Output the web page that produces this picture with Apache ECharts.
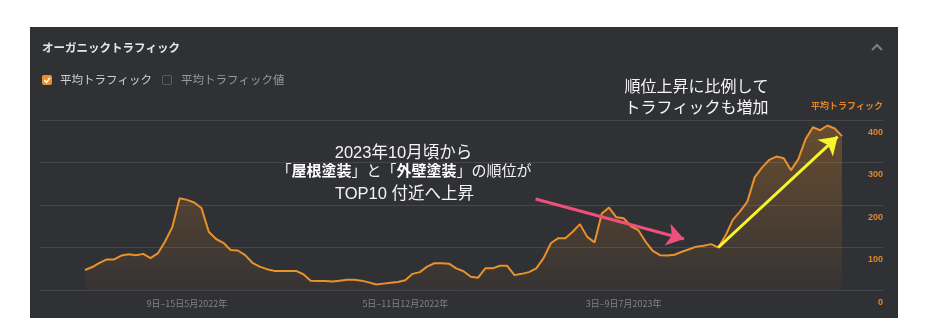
<!DOCTYPE html>
<html><head><meta charset="utf-8">
<script src="https://cdn.jsdelivr.net/npm/echarts@6/dist/echarts.min.js"></script>
<style>
html,body{margin:0;padding:0;background:#fff}
#panel{position:absolute;left:30px;top:27px;width:868px;height:291px;background:#303134}
#c{position:absolute;left:0;top:0;width:931px;height:333px}
</style>
</head><body><div id="panel"></div><div id="c"></div>
<script>
// weekly average organic traffic, from week of 31 Jan 2022 to week of 29 Jan 2024
const traffic = [
  47,54,64,72,72,81,84,82,85,75,86,114,148,216,212,206,193,137,120,111,94,93,82,64,55,49,45,
  45,45,45,37,22,21,21,20,22,24,24,22,18,13,15,17,19,23,38,42,55,63,63,62,51,44,31,
  29,51,51,57,57,35,38,42,51,75,110,122,122,137,155,125,112,180,194,171,169,150,141,114,92,82,81,
  83,90,96,102,104,108,100,128,165,185,208,265,288,306,314,310,282,308,355,383,376,387,380,362
];
const xLabelIndex = [14, 44, 74];
const xLabels = ['9日–15日5月2022年', '5日–11日12月2022年', '3日–9日7月2023年'];
const yMin = 0, yMax = 400, yStep = 100;
const yellowArrow = [[87, 100], [103.4, 361]];
const pinkArrow = [[61.9, 214], [82.3, 120]];
const titleText = 'オーガニックトラフィック';
const legendOn = '平均トラフィック';
const legendOff = '平均トラフィック値';
const axisName = '平均トラフィック';
const noteRight = ['順位上昇に比例して', 'トラフィックも増加'];
const noteMid1 = '2023年10月頃から';
const noteMid2 = '{r|「}{b|屋根塗装}{r|」と「}{b|外壁塗装}{r|」の順位が}';
const noteMid3 = 'TOP10 付近へ上昇';

const jp = '"Noto Sans CJK JP", sans-serif';
const mixed = '"Liberation Sans", Arial, "Noto Sans CJK JP", sans-serif';
const orange = '#e8912d';

const chart = echarts.init(document.getElementById('c'), null, {renderer: 'canvas'});
const seriesData = traffic.map((v, i) => [i, v]);

function arrowSeries(pts, color) {
  return {
    type: 'line', xAxisIndex: 1, yAxisIndex: 1, data: [], silent: true,
    markLine: {
      silent: true, animation: false,
      symbol: ['none', 'arrow'], symbolSize: 17,
      label: {show: false},
      itemStyle: {color: color},
      lineStyle: {color: color, width: 3, type: 'solid', opacity: 1},
      emphasis: {disabled: true},
      data: [[{coord: pts[0]}, {coord: pts[1]}]]
    }
  };
}

chart.setOption({
  backgroundColor: 'transparent',
  animation: false,
  grid: [
    {left: 40, right: 48, top: 120, bottom: 43, outerBoundsMode: 'none', containLabel: false},
    {left: 85, right: 89, top: 120, bottom: 43, outerBoundsMode: 'none', containLabel: false}
  ],
  xAxis: [
    {type: 'value', gridIndex: 0, min: 0, max: 1, show: false},
    {type: 'value', gridIndex: 1, min: 0, max: traffic.length - 1,
     axisLine: {show: false}, axisTick: {show: false}, splitLine: {show: false},
     axisLabel: {
       customValues: xLabelIndex, color: '#808285', fontSize: 9, margin: 9,
       fontFamily: jp,
       formatter: v => xLabels[xLabelIndex.indexOf(Math.round(v))] || ''
     }}
  ],
  yAxis: [
    {type: 'value', gridIndex: 0, position: 'right', min: yMin, max: yMax, interval: yStep,
     axisLine: {show: false}, axisTick: {show: false},
     splitLine: {lineStyle: {color: '#45474b', width: 1}},
     axisLabel: {inside: true, margin: 0, align: 'right', verticalAlign: 'top',
       padding: [8, 0, 0, 0], color: '#e0862c', fontSize: 9, fontWeight: 'bold', fontFamily: mixed}},
    {type: 'value', gridIndex: 1, min: yMin, max: yMax, interval: yStep, show: false}
  ],
  series: [
    {
      type: 'line', xAxisIndex: 1, yAxisIndex: 1, data: seriesData,
      showSymbol: false, symbol: 'none', smooth: false,
      lineStyle: {color: orange, width: 2},
      areaStyle: {
        color: {type: 'linear', x: 0, y: 120, x2: 0, y2: 290, global: true,
          colorStops: [{offset: 0, color: 'rgba(232,140,40,0.45)'},
                       {offset: 1, color: 'rgba(232,140,40,0.05)'}]}
      },
      z: 2
    },
    arrowSeries(pinkArrow, '#ef4f7b'),
    arrowSeries(yellowArrow, '#f7f52c')
  ],
  graphic: [
    {type: 'text', x: 42, y: 47.5, z: 100, silent: true,
     style: {text: titleText, fill: '#e6e6e6', fontSize: 11.5, fontWeight: 'bold', fontFamily: jp,
       align: 'left', verticalAlign: 'middle'}},
    {type: 'polyline', z: 100, silent: true,
     shape: {points: [[872, 50], [877, 45], [882, 50]]},
     style: {stroke: '#7c7e82', lineWidth: 2, fill: null}},
    {type: 'rect', z: 100, silent: true,
     shape: {x: 42, y: 75, width: 10, height: 10, r: 2}, style: {fill: orange}},
    {type: 'polyline', z: 101, silent: true,
     shape: {points: [[44.3, 80.2], [46.6, 82.4], [50, 77.6]]},
     style: {stroke: '#ffffff', lineWidth: 1.6, fill: null}},
    {type: 'text', x: 60, y: 80, z: 100, silent: true,
     style: {text: legendOn, fill: '#d2d2d2', fontSize: 11.5, fontFamily: jp, align: 'left', verticalAlign: 'middle'}},
    {type: 'rect', z: 100, silent: true,
     shape: {x: 162.5, y: 75.5, width: 9, height: 9, r: 1.5},
     style: {fill: null, stroke: '#5b5c60', lineWidth: 1}},
    {type: 'text', x: 181, y: 80, z: 100, silent: true,
     style: {text: legendOff, fill: '#9a9a9c', fontSize: 11.5, fontFamily: jp, align: 'left', verticalAlign: 'middle'}},
    {type: 'text', x: 883, y: 106, z: 100, silent: true,
     style: {text: axisName, fill: '#e0862c', fontSize: 9, fontWeight: 'bold', fontFamily: jp, align: 'right', verticalAlign: 'middle'}},
    {type: 'text', x: 696.5, y: 86, z: 100, silent: true,
     style: {text: noteRight[0], fill: '#f4f4f4', fontSize: 16, fontFamily: jp, align: 'center', verticalAlign: 'middle'}},
    {type: 'text', x: 696.5, y: 107, z: 100, silent: true,
     style: {text: noteRight[1], fill: '#f4f4f4', fontSize: 16, fontFamily: jp, align: 'center', verticalAlign: 'middle'}},
    {type: 'text', x: 403.5, y: 153, z: 100, silent: true,
     style: {text: noteMid1, fill: '#f4f4f4', fontSize: 16.5, fontFamily: mixed, align: 'center', verticalAlign: 'middle'}},
    {type: 'text', x: 404, y: 171.5, z: 100, silent: true,
     style: {text: noteMid2, fill: '#f4f4f4', fontSize: 15, fontFamily: mixed, align: 'center', verticalAlign: 'middle',
       rich: {
         r: {fill: '#f4f4f4', fontSize: 15, fontFamily: mixed},
         b: {fill: '#ffffff', fontSize: 15, fontWeight: 'bold', fontFamily: mixed}
       }}},
    {type: 'text', x: 404.5, y: 194.5, z: 100, silent: true,
     style: {text: noteMid3, fill: '#f4f4f4', fontSize: 16.5, fontFamily: mixed, align: 'center', verticalAlign: 'middle'}}
  ]
});
</script>
</body></html>
